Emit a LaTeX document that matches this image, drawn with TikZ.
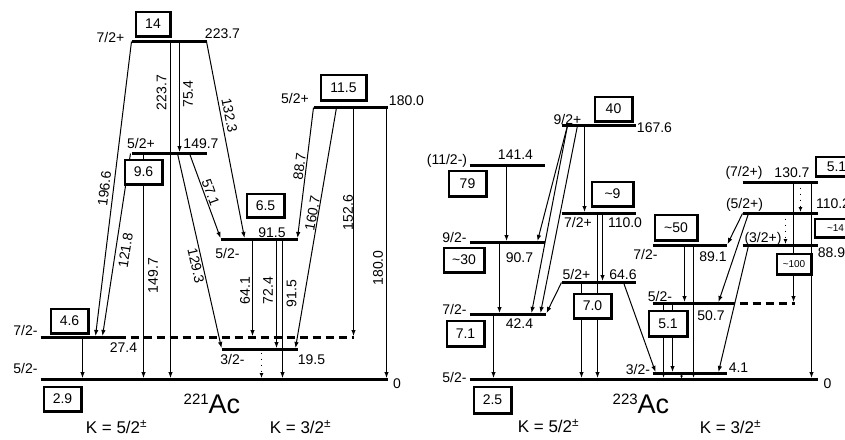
\documentclass[tikz,border=0pt]{standalone}
\usepackage{fontspec}
\setmainfont{Liberation Sans}
\usetikzlibrary{arrows.meta}
\tikzset{
  lvl/.style={line width=3pt},
  gnd/.style={line width=3.4pt},
  dlvl/.style={line width=3pt, dash pattern=on 8pt off 5pt},
  tr/.style={line width=1pt,-{Latex[length=6pt,width=4.5pt]}},
  dtr/.style={line width=1pt, dash pattern=on 1pt off 5pt,-{Latex[length=5pt,width=4pt]}},
  bx/.style={draw, line width=2.7pt, fill=white, inner sep=0pt, font=\fontsize{14}{14}\selectfont},
  sbx/.style={bx, font=\fontsize{10}{10}\selectfont},
  lab/.style={inner sep=0pt, font=\fontsize{14}{14}\selectfont},
  klab/.style={inner sep=0pt, anchor=base, font=\fontsize{17}{17}\selectfont},
}
\newcommand\mkbox[7]{% style,name,x1,y1,x2,y2,text
  \pgfmathsetmacro\bw{#5-#3-2.7}\pgfmathsetmacro\bh{#6-#4-2.7}
  \node[#1,minimum width=\bw pt,minimum height=\bh pt] (#2) at ({(#3+#5)/2},{(#4+#6)/2}) {#7};}
\begin{document}
\begin{tikzpicture}[x=1pt,y=-1pt]
\useasboundingbox (0,0) rectangle (845,439);
\fill[white] (0,0) rectangle (845,439);
\begin{scope}[xshift=0.5pt,yshift=-0.5pt]
% ================= LEFT: 221Ac =================
% transitions
\coordinate (a1) at (131,41); \coordinate (a1e) at (95,335.5);
\draw[tr] (a1) -- (a1e);
\draw[tr] (170,41) -- (170,377.5);
\draw[tr] (179,41) -- (179,151.5);
\draw[tr] (206,41) -- (244,237.5);
\draw[tr] (130,153) -- (102,335.5);
\draw[tr] (143,153) -- (143,377.5);
\draw[tr] (189,153) -- (220,237.5);
\draw[tr] (177,153) -- (221,347.5);
\draw[tr] (313,107) -- (297,237.5);
\draw[tr] (336,107) -- (295,347.5);
\draw[tr] (353,107) -- (353,335.5);
\draw[tr] (386,107) -- (386,377.5);
\draw[tr] (252,239) -- (252,335.5);
\draw[tr] (276,239) -- (276,347.5);
\draw[tr] (282,239) -- (282,377.5);
\draw[tr] (82,337) -- (82,377.5);
\draw[dtr] (261,352) -- (261,377.5);

% levels
\draw[lvl] (131,41) -- (206,41);
\draw[lvl] (131,153) -- (206,153);
\draw[lvl] (313,107) -- (387,107);
\draw[lvl] (220,239) -- (297,239);
\draw[lvl] (40,337) -- (117,337);
\draw[dlvl] (117,337) -- (353,337);
\draw[lvl] (221,349) -- (297,349);
\draw[gnd] (40,379) -- (387,379);

% boxes
\mkbox{bx}{b14}{134}{10}{171}{37}{14}
\mkbox{bx}{b96}{123}{158}{163}{185}{9.6}
\mkbox{bx}{b115}{319}{73}{367}{101}{11.5}
\mkbox{bx}{b65}{245}{192}{285}{218}{6.5}
\mkbox{bx}{b46}{49}{307}{89}{334}{4.6}
\mkbox{bx}{b29}{42}{385}{82}{412}{2.9}

% level labels
\node[lab] (t1) at (110,37) {7/2+};
\node[lab] (t2) at (222,33) {223.7};
\node[lab] (t3) at (140.5,143) {5/2+};
\node[lab] (t4) at (200.5,143.5) {149.7};
\node[lab] (t5) at (294.5,98) {5/2+};
\node[lab] (t6) at (406,100) {180.0};
\node[lab] (t7) at (227,253) {5/2-};
\node[lab] (t8) at (271.5,232) {91.5};
\node[lab] (t9) at (25,330) {7/2-};
\node[lab] (t10) at (123,347) {27.4};
\node[lab] (t11) at (25,368) {5/2-};
\node[lab] (t12) at (396.5,383) {0};
\node[lab] (t13) at (232,359) {3/2-};
\node[lab] (t14) at (311,359) {19.5};

% transition labels
\node[lab,rotate=90] (g1) at (161,92) {223.7};
\node[lab,rotate=90] (g2) at (187.5,93.5) {75.4};
\node[lab,rotate=83] (g3) at (104,188) {196.6};
\node[lab,rotate=81] (g4) at (125,250) {121.8};
\node[lab,rotate=90] (g5) at (152.5,275) {149.7};
\node[lab,rotate=-77] (g6) at (195.5,265) {129.3};
\node[lab,rotate=-70] (g7) at (210,192) {57.1};
\node[lab,rotate=-79] (g8) at (229,115) {132.3};
\node[lab,rotate=83] (g9) at (299,166) {88.7};
\node[lab,rotate=80] (g10) at (312,213) {160.7};
\node[lab,rotate=90] (g11) at (347.5,212) {152.6};
\node[lab,rotate=90] (g12) at (377.5,267.5) {180.0};
\node[lab,rotate=90] (g13) at (244.5,290) {64.1};
\node[lab,rotate=90] (g14) at (267.5,290) {72.4};
\node[lab,rotate=90] (g15) at (291,293) {91.5};

\node[inner sep=0pt,anchor=base west] (ac1) at (183,413) {\raisebox{9pt}{\fontsize{15}{15}\selectfont 221}\fontsize{27}{27}\selectfont Ac};
\node[klab] (k1) at (116,433) {K = 5/2\textsuperscript{±}};
\node[klab] (k2) at (300,433) {K = 3/2\textsuperscript{±}};

% ================= RIGHT: 223Ac =================
\draw[tr] (567,125) -- (537,240.5);
\draw[tr] (567,125) -- (531,312.5);
\draw[tr] (577,125) -- (540,312.5);
\draw[tr] (584,125) -- (584,211.5);
\draw[tr] (506,165) -- (506,240.5);
\draw[tr] (499,242) -- (499,312.5);
\draw[tr] (493,314) -- (493,377.5);
\draw[tr] (602,213) -- (602,280.5);
\draw[tr] (597,213) -- (597,377.5);
\draw[tr] (581,282) -- (581,377.5);
\draw[tr] (561,282) -- (546,312.5);
\draw[tr] (623,282) -- (655,371.5);
\draw[tr] (684,245) -- (684,301.5);
\draw[tr] (693,245) -- (693,377.5);
\draw[tr] (663,303) -- (663,377.5);
\draw[tr] (672,303) -- (672,371.5);
\draw[line width=1pt,-{Latex[length=3pt,width=3pt]}] (681,374) -- (681,378);
\draw[tr] (742,213) -- (727,243.5);
\draw[tr] (748,213) -- (718,301.5);
\draw[tr] (748,245) -- (718,371.5);
\draw[tr] (793,182) -- (793,301.5);
\draw[tr] (811,182) -- (811,377.5);
\draw[dtr] (800,187) -- (800,211.5);
\draw[dtr] (785,218) -- (785,243.5);

% levels
\draw[lvl] (561,125) -- (635,125);
\draw[lvl] (469,165) -- (544,165);
\draw[lvl] (469,242) -- (544,242);
\draw[lvl] (469,314) -- (545,314);
\draw[gnd] (469,379) -- (817,379);
\draw[lvl] (561,213) -- (635,213);
\draw[lvl] (561,282) -- (635,282);
\draw[lvl] (652,245) -- (726,245);
\draw[lvl] (652,303) -- (726,303);
\draw[dlvl] (726,303) -- (794,303);
\draw[lvl] (652,373) -- (726,373);
\draw[lvl] (742,182) -- (817,182);
\draw[lvl] (742,213) -- (817,213);
\draw[lvl] (742,245) -- (817,245);

% boxes
\mkbox{bx}{c40}{593}{95}{633}{122}{40}
\mkbox{bx}{c79}{447}{169}{487}{197}{79}
\mkbox{bx}{c30}{442}{246}{485}{273}{\textasciitilde30}
\mkbox{bx}{c71}{445}{319}{485}{347}{7.1}
\mkbox{bx}{c25}{472}{385}{512}{414}{2.5}
\mkbox{bx}{c9}{590}{180}{634}{207}{\textasciitilde9}
\mkbox{bx}{c70}{572}{292}{612}{319}{7.0}
\mkbox{bx}{c50}{653}{213}{698}{241}{\textasciitilde50}
\mkbox{bx}{c51}{647}{309}{688}{337}{5.1}
\mkbox{bx}{c51u}{814}{155}{858}{177}{5.1\hspace{6pt}}
\mkbox{sbx}{c14}{813}{217}{857}{238}{\textasciitilde14\hspace{8pt}}
\mkbox{sbx}{c100}{775}{252}{812}{275}{\textasciitilde100}

% level labels
\node[lab] (r1) at (567,119) {9/2+};
\node[lab] (r2) at (654,127) {167.6};
\node[lab] (r3) at (446.5,160) {(11/2-)};
\node[lab] (r4) at (515,154) {141.4};
\node[lab] (r5) at (454,237) {9/2-};
\node[lab] (r6) at (519,257) {90.7};
\node[lab] (r7) at (454,309) {7/2-};
\node[lab] (r8) at (519,323) {42.4};
\node[lab] (r9) at (454,377) {5/2-};
\node[lab] (r10) at (577.5,222) {7/2+};
\node[lab] (r11) at (624.5,222) {110.0};
\node[lab] (r12) at (576,274) {5/2+};
\node[lab] (r13) at (622.5,274) {64.6};
\node[lab] (r14) at (645,254) {7/2-};
\node[lab] (r15) at (712.5,256) {89.1};
\node[lab] (r16) at (659.5,296) {5/2-};
\node[lab] (r17) at (710.5,315) {50.7};
\node[lab] (r18) at (637.5,369) {3/2-};
\node[lab] (r19) at (738,367) {4.1};
\node[lab] (r20) at (827,383) {0};
\node[lab] (r21) at (743.5,172) {(7/2+)};
\node[lab] (r22) at (791.5,172) {130.7};
\node[lab] (r23) at (744,204) {(5/2+)};
\node[lab] (r24) at (832.5,203) {110.2};
\node[lab] (r25) at (762.5,238) {(3/2+)};
\node[lab] (r26) at (831,252) {88.9};

\node[inner sep=0pt,anchor=base west] (ac2) at (612,413) {\raisebox{9pt}{\fontsize{15}{15}\selectfont 223}\fontsize{27}{27}\selectfont Ac};
\node[klab] (k3) at (548,432) {K = 5/2\textsuperscript{±}};
\node[klab] (k4) at (730,433) {K = 3/2\textsuperscript{±}};
\end{scope}
\end{tikzpicture}
\end{document}
